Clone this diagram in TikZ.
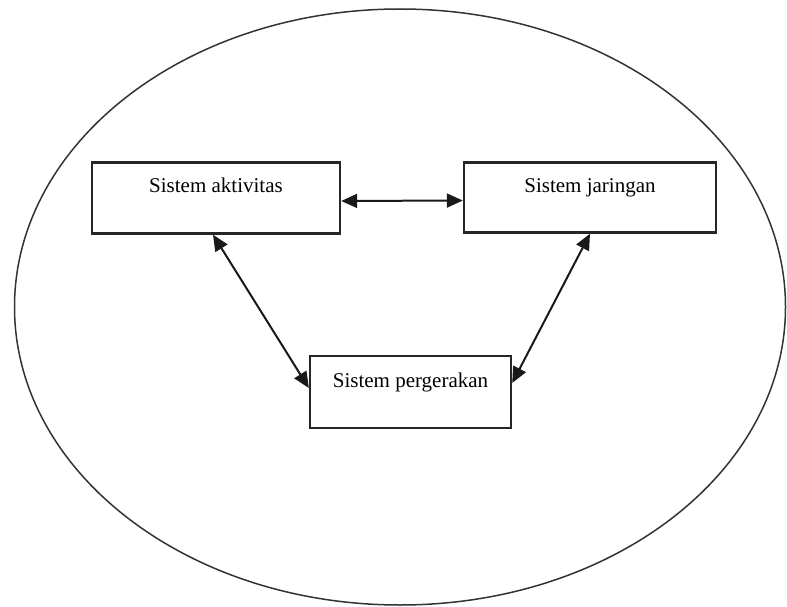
\documentclass[tikz,border=0pt]{standalone}
\usepackage{fontspec}
\setmainfont{Liberation Serif}
\usetikzlibrary{arrows.meta,shapes.geometric}
\begin{document}
\begin{tikzpicture}[x=1pt,y=-1pt,
  sysbox/.style={draw=black!85, line width=2.4pt, rectangle, inner sep=0pt,
    font=\fontsize{21}{24}\selectfont, text height=16pt, text depth=26pt},
  link/.style={line width=2pt, draw=black!90, {Triangle[length=16pt,width=14pt]}-{Triangle[length=16pt,width=14pt]}}
]
\useasboundingbox (0,0) rectangle (787,607);
\node[draw=black!80, line width=1.5pt, ellipse, minimum width=771pt, minimum height=596pt, inner sep=0pt] (outer) at (400,307) {};
\node[sysbox, minimum width=248pt, minimum height=71pt] (a) at (216,198) {Sistem aktivitas};
\node[sysbox, minimum width=252pt, minimum height=70pt] (b) at (590,197.5) {Sistem jaringan};
\node[sysbox, minimum width=201pt, minimum height=72pt] (c) at (410.5,392) {Sistem pergerakan};
\draw[link] ([yshift=-3pt]a.east) -- ([yshift=-3pt]b.west);
\draw[link] ([xshift=-3pt]a.south) -- ([yshift=4pt]c.west);
\draw[link] (b.south) -- ([yshift=9pt]c.east);
\end{tikzpicture}
\end{document}
